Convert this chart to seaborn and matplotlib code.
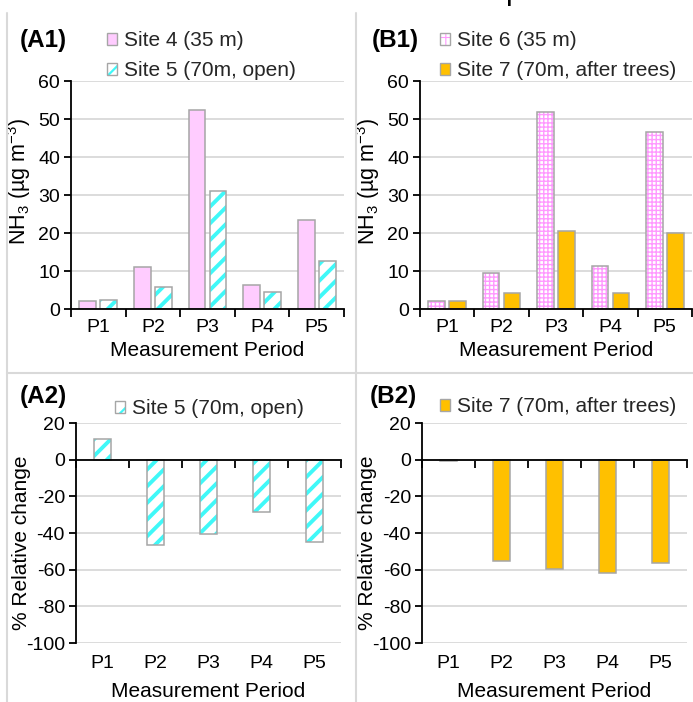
import numpy as np
import pandas as pd
import matplotlib
matplotlib.use("Agg")
import matplotlib.pyplot as plt
import matplotlib.patches as mpatches
from matplotlib.lines import Line2D
from matplotlib.legend_handler import HandlerTuple
import seaborn as sns

# ---------------- data ----------------
periods = ["P1", "P2", "P3", "P4", "P5"]
site4 = [2.1, 11.1, 52.4, 6.3, 23.4]
site5 = [2.4, 5.9, 31.0, 4.6, 12.7]
site6 = [2.2, 9.6, 51.9, 11.4, 46.7]
site7 = [2.2, 4.3, 20.6, 4.3, 19.9]
change5 = [11.4, -46.7, -40.5, -28.5, -44.9]
change7 = [-0.6, -55.3, -59.8, -61.6, -56.6]

lab4 = "Site 4 (35 m)"
lab5 = "Site 5 (70m, open)"
lab6 = "Site 6 (35 m)"
lab7 = "Site 7 (70m, after trees)"
top_yticks = [0, 10, 20, 30, 40, 50, 60]
bot_yticks = [-100, -80, -60, -40, -20, 0, 20]

# ---------------- style ----------------
sns.set_theme(style="white")
plt.rcParams["font.family"] = ["Liberation Sans", "DejaVu Sans"]
plt.rcParams["axes.unicode_minus"] = False
plt.rcParams["mathtext.fontset"] = "custom"
plt.rcParams["mathtext.rm"] = "Liberation Sans"
plt.rcParams["mathtext.it"] = "Liberation Sans:italic"
plt.rcParams["mathtext.bf"] = "Liberation Sans:bold"
plt.rcParams["hatch.linewidth"] = 2.5

PINK = "#FFCCFF"
CYAN = "#40F8F8"
GRIDPINK = "#FF99FF"
ORANGE = "#FFC000"
EDGE = "#A6A6A6"
GRID = "#D9D9D9"
TICK_FS = 14
LAB_FS = 15
LEG_FS = 15

W, H = 693, 702
fig = plt.figure(figsize=(W / 100, H / 100), dpi=100)


def px_axes(x0, x1, ytop, ybot):
    return fig.add_axes([x0 / W, 1 - ybot / H, (x1 - x0) / W, (ybot - ytop) / H])


def set_hlw(p, lw):
    if hasattr(p, "set_hatch_linewidth"):
        p.set_hatch_linewidth(lw)


def style_container(ax, cont, face, hatch=None, hcolor=None, hlw=1.0):
    for p in cont.patches:
        if hatch:
            p.set_facecolor(face)
            p.set_edgecolor(hcolor)
            p.set_linewidth(0)
            p.set_hatch(hatch)
            set_hlw(p, hlw)
            ol = mpatches.Rectangle(p.get_xy(), p.get_width(), p.get_height(),
                                    fill=False, edgecolor=EDGE, lw=1.1,
                                    zorder=p.get_zorder() + 0.1)
            ax.add_patch(ol)
        else:
            p.set_facecolor(face)
            p.set_edgecolor(EDGE)
            p.set_linewidth(1.1)


def make_handle(face, hatch=None, hcolor=None, hlw=1.0):
    if hatch:
        a = mpatches.Patch(facecolor=face, edgecolor=hcolor, hatch=hatch, lw=0)
        set_hlw(a, hlw)
        b = mpatches.Patch(fill=False, edgecolor=EDGE, lw=1.0)
        return (a, b)
    return mpatches.Patch(facecolor=face, edgecolor=EDGE, lw=1.0)


def style_axes(ax, yticks, bottom_panel):
    ax.set_xlim(-0.5, 4.5)
    ax.set_ylim(yticks[0], yticks[-1])
    ax.set_yticks(yticks)
    ax.set_yticklabels([str(v) for v in yticks])
    ax.yaxis.grid(True, color=GRID, lw=1.3)
    ax.xaxis.grid(False)
    ax.set_axisbelow(True)
    for s in ["top", "right"]:
        ax.spines[s].set_visible(False)
    for s in ["left", "bottom"]:
        ax.spines[s].set_color("black")
        ax.spines[s].set_linewidth(1.3)
    ax.set_xticks(range(len(periods)))
    ax.set_xticks(np.arange(-0.5, len(periods), 1.0), minor=True)
    ax.tick_params(axis="x", which="minor", bottom=True, length=6, width=1.3,
                   direction="out", color="black")
    ax.tick_params(axis="y", which="major", left=True, length=5, width=1.3,
                   direction="out", color="black", labelsize=TICK_FS, pad=3,
                   labelcolor="black")
    if bottom_panel:
        ax.spines["bottom"].set_position(("data", 0))
        ax.tick_params(axis="x", which="major", length=0, labelbottom=False)
        sec = ax.secondary_xaxis(0)
        sec.set_xticks(range(len(periods)))
        sec.set_xticklabels(periods)
        sec.tick_params(axis="x", length=0, labelsize=TICK_FS, pad=9, labelcolor="black")
        for s in sec.spines.values():
            s.set_visible(False)
        ax.set_xlabel("")
        sec.set_xlabel("Measurement Period", fontsize=LAB_FS, color="black", labelpad=7)
        ax.set_ylabel("% Relative change", fontsize=LAB_FS, color="black")
        ax.yaxis.set_label_coords(-0.168, 0.455)
    else:
        ax.tick_params(axis="x", which="major", length=0, labelsize=TICK_FS, pad=7,
                       labelcolor="black")
        ax.set_xticklabels(periods)
        ax.set_xlabel("Measurement Period", fontsize=LAB_FS, color="black")
        ax.xaxis.set_label_coords(0.5, -0.14)
        ax.set_ylabel("NH$_3$ (µg m$^{-3}$)", fontsize=15.5, color="black")
        ax.yaxis.set_label_coords(-0.138, 0.56)


# ---------------- top panels ----------------
def grouped(ax, v1, v2, n1, n2):
    df = pd.DataFrame({"period": periods * 2,
                       "value": list(v1) + list(v2),
                       "site": [n1] * len(periods) + [n2] * len(periods)})
    sns.barplot(data=df, x="period", y="value", hue="site", order=periods,
                hue_order=[n1, n2], palette=["#888888", "#888888"],
                width=0.772, gap=0.207, errorbar=None, legend=False, ax=ax)


axA1 = px_axes(71, 344, 81, 309)
grouped(axA1, site4, site5, lab4, lab5)
style_container(axA1, axA1.containers[0], PINK)
style_container(axA1, axA1.containers[1], "white", "//", CYAN, 2.8)
style_axes(axA1, top_yticks, False)

axB1 = px_axes(420, 692, 81, 309)
grouped(axB1, site6, site7, lab6, lab7)
style_container(axB1, axB1.containers[0], "white", "++++", GRIDPINK, 1.0)
style_container(axB1, axB1.containers[1], ORANGE)
style_axes(axB1, top_yticks, False)

# ---------------- bottom panels ----------------
axA2 = px_axes(76, 341, 423, 643)
sns.barplot(x=periods, y=change5, color="#888888", width=0.32, errorbar=None, ax=axA2)
style_container(axA2, axA2.containers[0], "white", "//", CYAN, 2.8)
style_axes(axA2, bot_yticks, True)

axB2 = px_axes(422, 687, 423, 643)
sns.barplot(x=periods, y=change7, color="#888888", width=0.32, errorbar=None, ax=axB2)
style_container(axB2, axB2.containers[0], ORANGE)
style_axes(axB2, bot_yticks, True)

# ---------------- legends ----------------
leg_kw = dict(loc="upper left", bbox_transform=fig.transFigure, frameon=False,
              handlelength=0.5, handleheight=0.5, handletextpad=0.3,
              labelspacing=0.55, fontsize=LEG_FS, borderpad=0, borderaxespad=0,
              handler_map={tuple: HandlerTuple(ndivide=1, pad=0)})

plt.rcParams["hatch.linewidth"] = 1.6
axA1.legend([make_handle(PINK), make_handle("white", "//", CYAN, 1.6)], [lab4, lab5],
            bbox_to_anchor=(107 / W, 1 - 31 / H), **leg_kw)
axA2.legend([make_handle("white", "//", CYAN, 1.6)], [lab5],
            bbox_to_anchor=(115 / W, 1 - 399 / H), **leg_kw)
plt.rcParams["hatch.linewidth"] = 0.8
axB1.legend([make_handle("white", "++", GRIDPINK, 0.8), make_handle(ORANGE)], [lab6, lab7],
            bbox_to_anchor=(440 / W, 1 - 31 / H), **leg_kw)
axB2.legend([make_handle(ORANGE)], [lab7],
            bbox_to_anchor=(440 / W, 1 - 397 / H), **leg_kw)

# ---------------- panel labels ----------------
for txt, x, y in [("(A1)", 20, 40), ("(B1)", 372, 40), ("(A2)", 20, 397), ("(B2)", 370, 397)]:
    fig.text(x / W, 1 - y / H, txt, fontsize=17.5, fontweight="bold",
             ha="left", va="center", color="black")

# ---------------- panel frame lines ----------------
for (x0, y0, x1, y1) in [(7, 13, 7, 702), (356, 13, 356, 702), (7, 373, 693, 373)]:
    fig.add_artist(Line2D([x0 / W, x1 / W], [1 - y0 / H, 1 - y1 / H],
                          transform=fig.transFigure, color=GRID, lw=1.5))

# cropped title fragment at the top edge
fig.text(505 / W, 1 + 1 / H, "p", fontsize=22, ha="left", va="baseline", color="black")

fig.savefig("out.png", dpi=100)
